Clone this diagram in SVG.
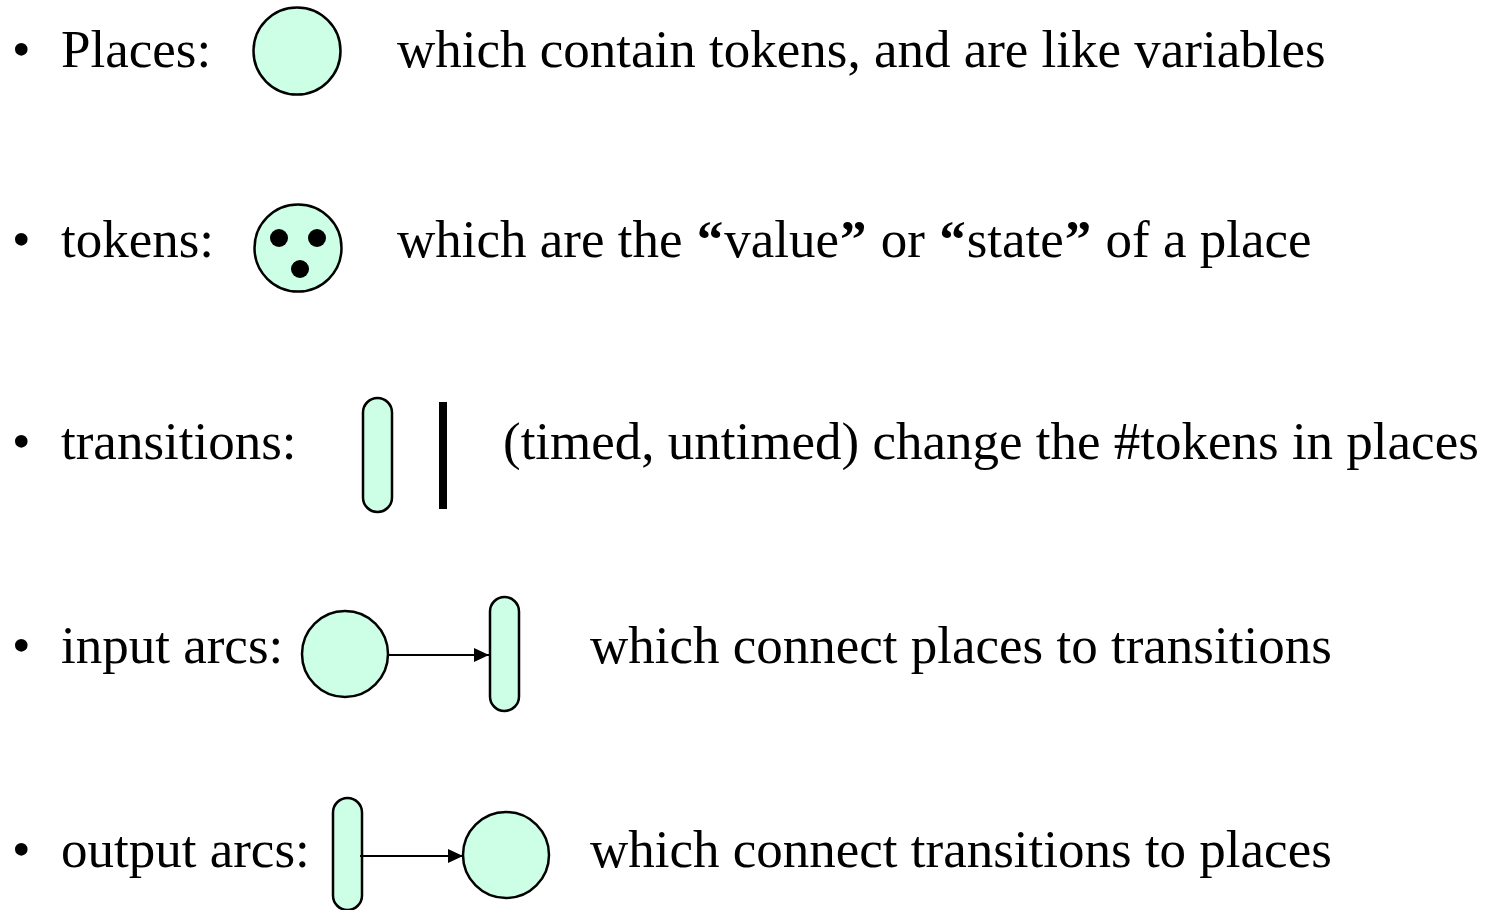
<svg xmlns="http://www.w3.org/2000/svg" width="1497" height="910" viewBox="0 0 1497 910">
<style>
text{font-family:"Liberation Serif","Times New Roman",serif;font-size:53px;fill:#000}
.q{font-weight:bold}
.pl{fill:#CCFFE5;stroke:#000;stroke-width:2.5}
.tok{fill:#000}
.arc{stroke:#000;stroke-width:2;fill:none}
</style>
<defs>
<marker id="ah" markerWidth="16" markerHeight="14" refX="15" refY="7" orient="auto" markerUnits="userSpaceOnUse">
<path d="M0,0 L15,7 L0,14 Z" fill="#000"/>
</marker>
</defs>
<rect width="1497" height="910" fill="#fff"/>
<g id="labels">
<text x="12" y="67">•</text><text x="61" y="67">Places:</text>
<text x="397" y="67">which contain tokens, and are like variables</text>
<text x="12" y="257">•</text><text x="61" y="257">tokens:</text>
<text x="397" y="257">which are the <tspan class="q" dx="1">“</tspan><tspan dx="1">value</tspan><tspan class="q" dx="1">”</tspan><tspan dx="1"> or </tspan><tspan class="q" dx="1">“</tspan><tspan dx="1">state</tspan><tspan class="q" dx="1">”</tspan><tspan dx="1"> of a place</tspan></text>
<text x="12" y="459">•</text><text x="61" y="459">transitions:</text>
<text x="503" y="459">(timed, untimed) change the #tokens in places</text>
<text x="12" y="663">•</text><text x="61" y="663">input arcs:</text>
<text x="590" y="663">which connect places to transitions</text>
<text x="12" y="867">•</text><text x="61" y="867">output arcs:</text>
<text x="590" y="867">which connect transitions to places</text>
</g>
<g id="place1"><circle class="pl" cx="297" cy="51" r="43.5"/></g>
<g id="place-tokens">
<circle class="pl" cx="298" cy="248" r="43.5"/>
<circle class="tok" cx="279" cy="238" r="9"/>
<circle class="tok" cx="317" cy="238" r="9"/>
<circle class="tok" cx="300" cy="269" r="9"/>
</g>
<g id="transition-timed"><rect class="pl" x="363" y="398" width="29" height="114" rx="14.5"/></g>
<g id="transition-untimed"><rect x="439" y="402" width="8" height="107" fill="#000"/></g>
<g id="input-place"><circle class="pl" cx="345" cy="654" r="43"/></g>
<g id="input-transition"><rect class="pl" x="490" y="597" width="29" height="114" rx="14.5"/></g>
<g id="output-transition"><rect class="pl" x="333" y="798" width="29" height="112" rx="14.5"/></g>
<g id="output-place"><circle class="pl" cx="506" cy="855" r="43"/></g>
<g id="connectors">
<line class="arc" x1="388" y1="655" x2="489" y2="655" marker-end="url(#ah)"/>
<line class="arc" x1="360" y1="856" x2="463" y2="856" marker-end="url(#ah)"/>
</g>
</svg>
